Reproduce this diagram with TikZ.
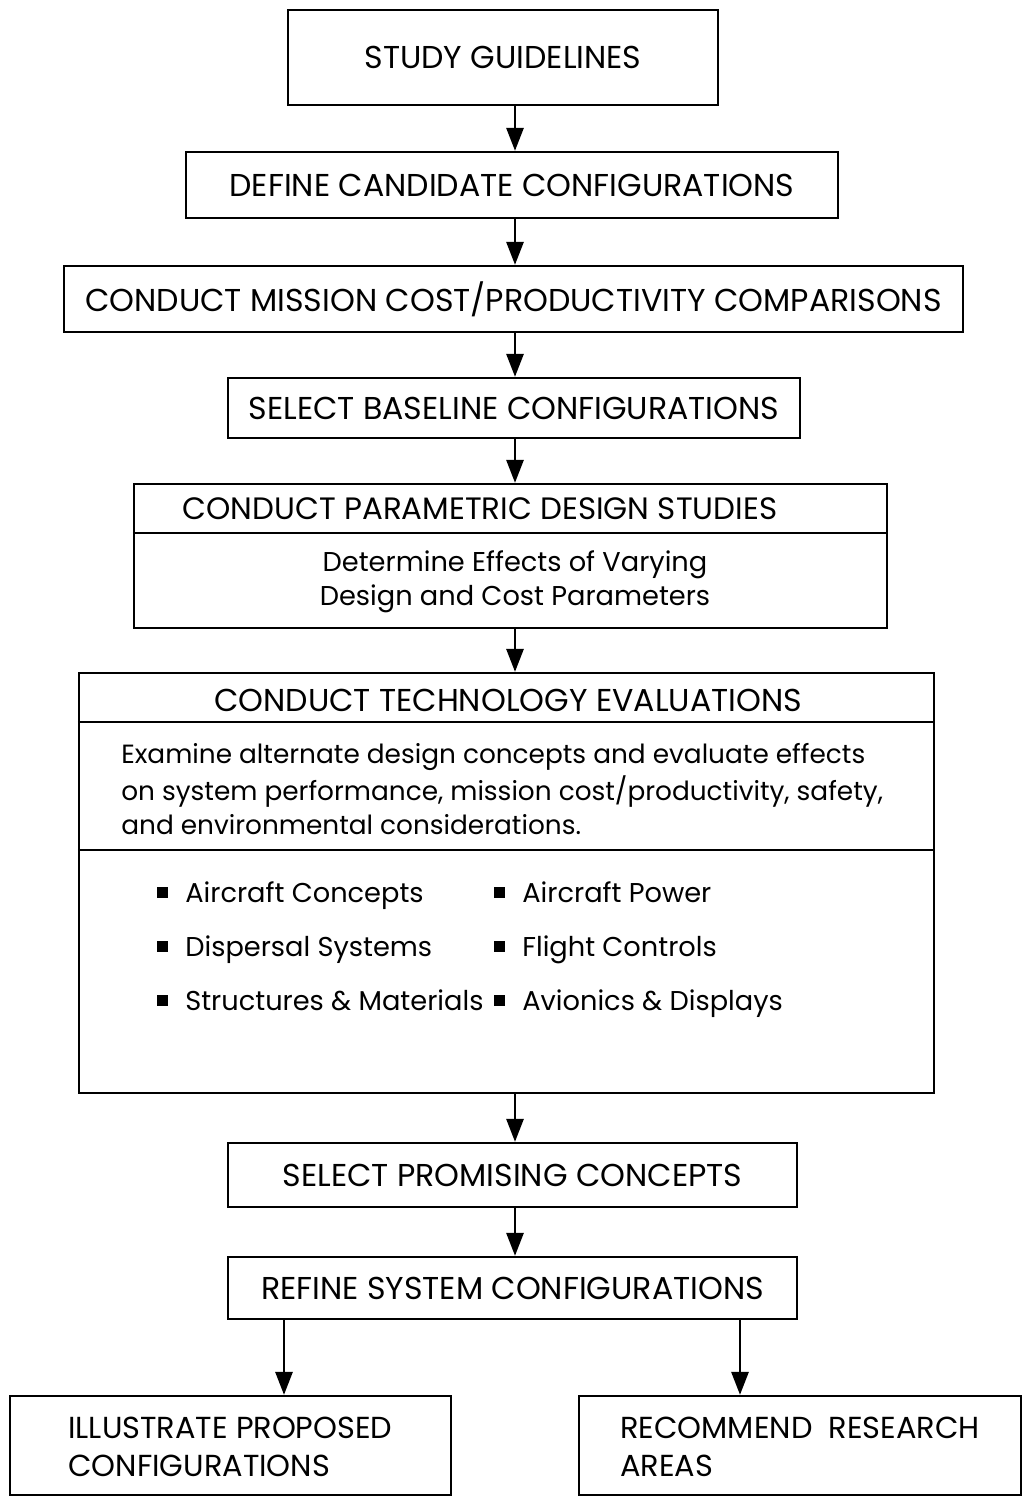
\documentclass[tikz,border=0pt]{standalone}
\usepackage{fontspec}
\setmainfont{Poppins}
\usetikzlibrary{arrows.meta, positioning}

\newcommand{\sqbullet}{\rule[0.09cm]{0.22cm}{0.22cm}\hspace{0.34cm}}

\begin{document}
\begin{tikzpicture}[x=0.02cm, y=-0.02cm,
    block/.style={rectangle, draw, line width=1.3pt, inner sep=0pt, font=\fontsize{18}{21}\selectfont},
    title/.style={inner sep=0pt, font=\fontsize{18}{21}\selectfont},
    note/.style={inner sep=0pt, font=\fontsize{15}{17.5}\selectfont},
    item/.style={inner sep=0pt, anchor=base west, font=\fontsize{15.5}{19}\selectfont},
    divider/.style={line width=1.3pt},
    arrow/.style={line width=1.6pt, -{Triangle[length=0.46cm, width=0.34cm]}}]

    \useasboundingbox (0,0) rectangle (1025,1496);

    \node (study) [block, minimum width=8.6cm, minimum height=1.9cm] at (503,57.5) {STUDY GUIDELINES};
    \node (define) [block, minimum width=13.04cm, minimum height=1.32cm] at (512,185) {DEFINE CANDIDATE CONFIGURATIONS};
    \node (mission) [block, minimum width=17.98cm, minimum height=1.32cm] at (513.5,299) {CONDUCT MISSION COST/PRODUCTIVITY COMPARISONS};
    \node (baseline) [block, minimum width=11.44cm, minimum height=1.2cm] at (514,408) {SELECT BASELINE CONFIGURATIONS};

    % parametric studies box
    \node (param) [block, minimum width=15.06cm, minimum height=2.88cm] at (510.5,556) {};
    \node (paramtitle) [title, font=\fontsize{17.6}{21}\selectfont] at (480,509) {CONDUCT PARAMETRIC DESIGN STUDIES};
    \node (parambody) [note, align=center, font=\fontsize{15.5}{17.5}\selectfont] at (515,582) {Determine Effects of Varying\\[2pt]Design and Cost Parameters};
    \coordinate (pdiv) at (0,533);
    \draw [divider] (param.west |- pdiv) -- (param.east |- pdiv);

    % technology evaluations box
    \node (tech) [block, minimum width=17.1cm, minimum height=8.4cm] at (506.5,883) {};
    \node (techtitle) [title] at (508,700) {CONDUCT TECHNOLOGY EVALUATIONS};
    \node (techbody) [note, align=left, anchor=north west] at (121,743) {Examine alternate design concepts and evaluate effects\\[2pt]on system performance, mission cost/productivity, safety,\\[2pt]and environmental considerations.};
    \coordinate (tdiv1) at (0,722);
    \coordinate (tdiv2) at (0,850);
    \draw [divider] (tech.west |- tdiv1) -- (tech.east |- tdiv1);
    \draw [divider] (tech.west |- tdiv2) -- (tech.east |- tdiv2);

    \node (aircraft) [item] at (157,902) {\sqbullet Aircraft Concepts};
    \node (dispersal) [item] at (157,956) {\sqbullet Dispersal Systems};
    \node (structures) [item] at (157,1010) {\sqbullet Structures \& Materials};
    \node (power) [item] at (494,902) {\sqbullet Aircraft Power};
    \node (controls) [item] at (494,956) {\sqbullet Flight Controls};
    \node (avionics) [item] at (494,1010) {\sqbullet Avionics \& Displays};

    \node (promising) [block, minimum width=11.38cm, minimum height=1.28cm] at (512.5,1175) {SELECT PROMISING CONCEPTS};
    \node (refine) [block, minimum width=11.38cm, minimum height=1.24cm] at (512.5,1288) {REFINE SYSTEM CONFIGURATIONS};

    % end boxes, text set flush left
    \node (illustrate) [block, minimum width=8.82cm, minimum height=1.98cm] at (230.5,1445.5) {};
    \node (illustratetext) [title, align=left, anchor=west, font=\fontsize{17.3}{20.5}\selectfont] at (68,1447) {ILLUSTRATE PROPOSED\\[1pt]CONFIGURATIONS};
    \node (recommend) [block, minimum width=8.84cm, minimum height=1.98cm] at (800,1445.5) {};
    \node (recommendtext) [title, align=left, anchor=west, font=\fontsize{17.3}{20.5}\selectfont] at (620,1447) {RECOMMEND\ \hspace{0.16cm}RESEARCH\\[1pt]AREAS};

    % connectors
    \coordinate (axis) at (515,0);
    \coordinate (leftdrop) at (284,0);
    \coordinate (rightdrop) at (740,0);
    \draw [arrow] (study.south -| axis) -- (define.north -| axis);
    \draw [arrow] (define.south -| axis) -- (mission.north -| axis);
    \draw [arrow] (mission.south -| axis) -- (baseline.north -| axis);
    \draw [arrow] (baseline.south -| axis) -- (param.north -| axis);
    \draw [arrow] (param.south -| axis) -- (tech.north -| axis);
    \draw [arrow] (tech.south -| axis) -- (promising.north -| axis);
    \draw [arrow] (promising.south -| axis) -- (refine.north -| axis);
    \draw [arrow] (refine.south -| leftdrop) -- (illustrate.north -| leftdrop);
    \draw [arrow] (refine.south -| rightdrop) -- (recommend.north -| rightdrop);
\end{tikzpicture}
\end{document}
